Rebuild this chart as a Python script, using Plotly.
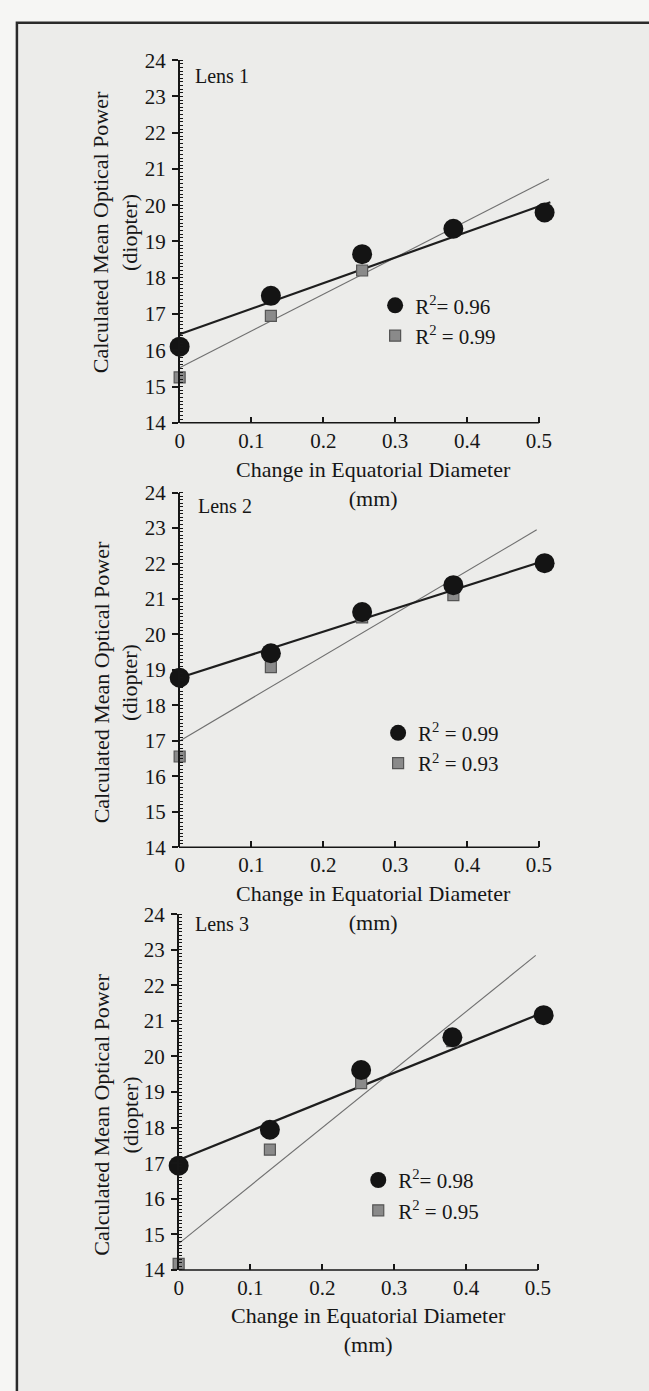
import plotly.graph_objects as go

W, H = 649, 1391

# ---------------- data ----------------
diam_change = [0, 0.127, 0.254, 0.381, 0.508]        # mm
diam_change_sq = [0, 0.127, 0.254, 0.381]

lens1_circle = [16.1, 17.5, 18.65, 19.35, 19.8]
lens1_square = [15.25, 16.95, 18.2, 19.3]
lens2_circle = [18.78, 19.47, 20.63, 21.39, 22.01]
lens2_square = [16.56, 19.08, 20.48, 21.11]
lens3_circle = [16.93, 17.94, 19.62, 20.54, 21.16]
lens3_square = [14.17, 17.38, 19.25, 20.43]

# regression lines (end points)
lens1_fit_black_x = [0, 0.516]
lens1_fit_black_y = [16.44, 20.08]
lens1_fit_gray_x = [0, 0.514]
lens1_fit_gray_y = [15.52, 20.72]
lens2_fit_black_x = [0, 0.508]
lens2_fit_black_y = [18.78, 22.08]
lens2_fit_gray_x = [0, 0.497]
lens2_fit_gray_y = [17.0, 22.95]
lens3_fit_black_x = [0, 0.518]
lens3_fit_black_y = [17.09, 21.32]
lens3_fit_gray_x = [0, 0.497]
lens3_fit_gray_y = [14.74, 22.84]

lens_labels = ["Lens 1", "Lens 2", "Lens 3"]
r2_circle = ["R<sup>2</sup>= 0.96", "R<sup>2</sup> = 0.99", "R<sup>2</sup>= 0.98"]
r2_square = ["R<sup>2</sup> = 0.99", "R<sup>2</sup> = 0.93", "R<sup>2</sup> = 0.95"]

x_tickvals = [0, 0.1, 0.2, 0.3, 0.4, 0.5]
x_ticktext = ["0", "0.1", "0.2", "0.3", "0.4", "0.5"]

x_title = "Change in Equatorial Diameter<br>(mm)"
y_title = "Calculated Mean Optical Power<br>(diopter)"

# ---------------- layout helpers ----------------
def px(x):
    return x / W

def py(y):
    return 1 - y / H

SERIF = "Liberation Serif, Times New Roman, serif"
INK = "#161616"

# pixel geometry of each panel: (x at 0, x at 0.5, y at 24, y at 14)
panels = [
    (176, 538, 49, 418),
    (176, 538, 489, 850),
    (175, 537, 918, 1280),
]
XMAX = 0.52

circles = [lens1_circle, lens2_circle, lens3_circle]
squares = [lens1_square, lens2_square, lens3_square]
fits_b = [(lens1_fit_black_x, lens1_fit_black_y), (lens2_fit_black_x, lens2_fit_black_y),
          (lens3_fit_black_x, lens3_fit_black_y)]
fits_g = [(lens1_fit_gray_x, lens1_fit_gray_y), (lens2_fit_gray_x, lens2_fit_gray_y),
          (lens3_fit_gray_x, lens3_fit_gray_y)]

# legend positions (px): left, top
legend_pos = [(373, 278), (376, 713), (356, 1168)]
lens_label_pos = [(189, 65), (192, 503), (189, 928)]
ytitle_pos = [(111, 224), (112, 682), (112, 1122)]
xtitle_pos = [(371, 480), (371, 912), (366, 1341)]

fig = go.Figure()
layout = dict(
    width=W, height=H,
    margin=dict(l=0, r=0, t=0, b=0),
    paper_bgcolor="#f6f6f4",
    plot_bgcolor="rgba(0,0,0,0)",
    showlegend=True,
    annotations=[],
    shapes=[],
)

# frame / background
layout["shapes"].append(dict(
    type="rect", xref="paper", yref="paper",
    x0=px(12), x1=px(W + 20), y0=py(H + 20), y1=py(11),
    fillcolor="#ececea", line=dict(color="#2a2a2a", width=2.5), layer="below"))

for i in range(3):
    n = "" if i == 0 else str(i + 1)
    xa, ya = "x" + n, "y" + n
    x0p, x5p, y24, y14 = panels[i]
    x_end = x0p + (x5p - x0p) * XMAX / 0.5
    leg = "legend" + n

    # fit lines
    gx, gy = fits_g[i]
    bx, by = fits_b[i]
    fig.add_trace(go.Scatter(x=gx, y=gy, mode="lines", xaxis=xa, yaxis=ya,
                             line=dict(color="#707070", width=1.1), showlegend=False,
                             hoverinfo="skip"))
    fig.add_trace(go.Scatter(x=bx, y=by, mode="lines", xaxis=xa, yaxis=ya,
                             line=dict(color="#1e1e1e", width=2.2), showlegend=False,
                             hoverinfo="skip"))
    # data
    fig.add_trace(go.Scatter(x=diam_change_sq, y=squares[i], mode="markers",
                             xaxis=xa, yaxis=ya, cliponaxis=False,
                             name=r2_square[i], legend=leg, legendrank=2,
                             marker=dict(symbol="square", size=11, color="#8a8a8a",
                                         line=dict(color="#555555", width=1.2))))
    fig.add_trace(go.Scatter(x=diam_change, y=circles[i], mode="markers",
                             xaxis=xa, yaxis=ya, cliponaxis=False,
                             name=r2_circle[i], legend=leg, legendrank=1,
                             marker=dict(symbol="circle", size=20, color="#141414",
                                         line=dict(width=0))))

    layout["xaxis" + n] = dict(
        domain=[px(x0p), px(x_end)], range=[0, XMAX], anchor=ya,
        tickvals=x_tickvals, ticktext=x_ticktext,
        ticks="inside", ticklen=6, tickwidth=1.5, tickcolor=INK,
        showline=False, showgrid=False, zeroline=False,
        tickfont=dict(family=SERIF, size=21, color=INK),
        ticklabelstandoff=3,
    )
    layout["yaxis" + n] = dict(
        domain=[py(y14), py(y24)], range=[14, 24], anchor=xa,
        tickmode="linear", tick0=14, dtick=1,
        ticks="outside", ticklen=6, tickwidth=1.5, tickcolor=INK,
        minor=dict(ticks="inside", tickmode="linear", tick0=14, dtick=0.1,
                   ticklen=3.5, tickwidth=1, tickcolor=INK, showgrid=False),
        showline=True, linewidth=1.5, linecolor=INK,
        showgrid=False, zeroline=False,
        tickfont=dict(family=SERIF, size=21, color=INK),
        ticklabelstandoff=2,
    )
    # x-axis line up to 0.5
    layout["shapes"].append(dict(
        type="line", xref=xa, yref=ya + " domain", x0=0, x1=0.5, y0=0, y1=0,
        line=dict(color=INK, width=1.5)))

    lx, ly = legend_pos[i]
    layout[leg] = dict(
        x=px(lx), y=py(ly), xanchor="left", yanchor="top",
        bgcolor="rgba(0,0,0,0)", borderwidth=0,
        font=dict(family=SERIF, size=21, color=INK),
        itemsizing="trace", tracegroupgap=0, traceorder="normal",
    )

    ax, ay = lens_label_pos[i]
    layout["annotations"].append(dict(
        text=lens_labels[i], x=px(ax), y=py(ay), xref="paper", yref="paper",
        xanchor="left", yanchor="middle", showarrow=False,
        font=dict(family=SERIF, size=20, color=INK)))
    tx, ty = ytitle_pos[i]
    layout["annotations"].append(dict(
        text=y_title, x=px(tx), y=py(ty), xref="paper", yref="paper",
        xanchor="center", yanchor="middle", textangle=-90, showarrow=False,
        font=dict(family=SERIF, size=22, color=INK)))
    tx, ty = xtitle_pos[i]
    layout["annotations"].append(dict(
        text=x_title, x=px(tx), y=py(ty), xref="paper", yref="paper",
        xanchor="center", yanchor="middle", showarrow=False,
        font=dict(family=SERIF, size=22, color=INK)))

fig.update_layout(**layout)
fig.write_html("out.html")
